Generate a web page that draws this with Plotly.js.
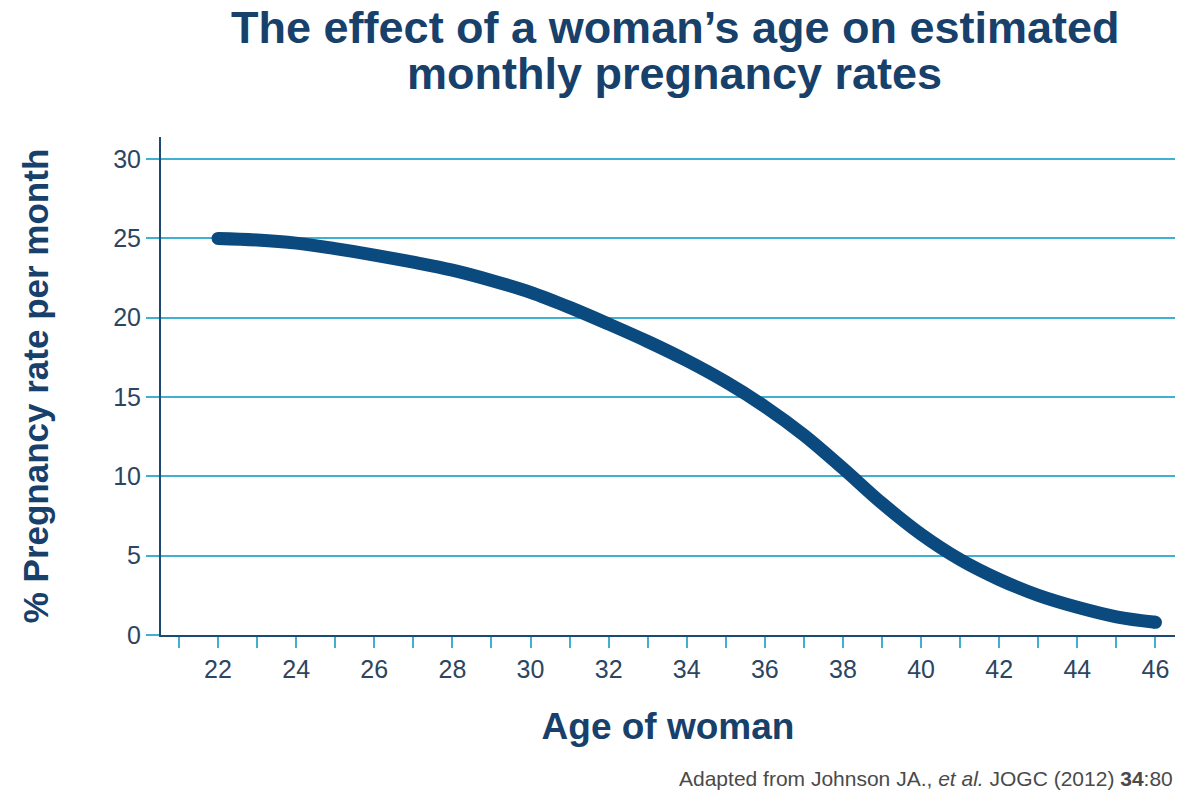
<!DOCTYPE html>
<html>
<head>
<meta charset="utf-8">
<script src="https://cdn.plot.ly/plotly-3.0.1.min.js"></script>
<style>html,body{margin:0;padding:0;background:#fff;}#chart{width:1189px;height:790px;}</style>
</head>
<body>
<div id="chart"></div>
<script>
const ages = [22, 23, 24, 25, 26, 27, 28, 29, 30, 31, 32, 33, 34, 35, 36, 37, 38, 39, 40, 41, 42, 43, 44, 45, 46];
const rates = [25.0, 24.9, 24.7, 24.35, 23.95, 23.5, 23.0, 22.35, 21.6, 20.65, 19.6, 18.5, 17.3, 15.95, 14.4, 12.6, 10.5, 8.3, 6.35, 4.75, 3.5, 2.5, 1.75, 1.15, 0.8];
const xTickVals = [22, 24, 26, 28, 30, 32, 34, 36, 38, 40, 42, 44, 46];
const yTickVals = [0, 5, 10, 15, 20, 25, 30];
const titleLines = ['The effect of a woman’s age on estimated', 'monthly pregnancy rates'];

const navy = '#0b4a7e';
const teal = '#3fb0cf';
const textCol = '#2c4560';
const titleCol = '#17406b';

const trace = {
  x: ages, y: rates, type: 'scatter', mode: 'lines',
  line: {color: navy, width: 13, shape: 'spline', smoothing: 1},
  hoverinfo: 'skip'
};
const caps = {
  x: [ages[0], ages[ages.length - 1]],
  y: [rates[0], rates[rates.length - 1]],
  type: 'scatter', mode: 'markers',
  marker: {color: navy, size: 13},
  hoverinfo: 'skip'
};

const layout = {
  width: 1189, height: 790,
  paper_bgcolor: '#ffffff', plot_bgcolor: '#ffffff',
  showlegend: false,
  margin: {l: 161, r: 14, t: 137, b: 155},
  font: {family: 'Liberation Sans, Arial, sans-serif', color: textCol},
  title: {
    text: '<b>' + titleLines[0] + '</b>',
    font: {size: 45, color: titleCol, family: 'Liberation Sans, Arial, sans-serif'},
    x: 0.568, xanchor: 'center', yref: 'container', y: 0.965, yanchor: 'middle'
  },
  xaxis: {
    range: [20.54, 46.5],
    tickvals: xTickVals,
    ticktext: xTickVals.map(String),
    ticks: 'outside', ticklen: 11, tickwidth: 2, tickcolor: teal,
    minor: {dtick: 1, tick0: 22, ticks: 'outside', ticklen: 11, tickwidth: 2, tickcolor: teal, showgrid: false},
    tickfont: {size: 25, color: textCol},
    showgrid: false, zeroline: false,
    showline: true, linecolor: '#1d4a72', linewidth: 2,
    title: {text: '<b>Age of woman</b>', font: {size: 37, color: titleCol}, standoff: 31}
  },
  yaxis: {
    range: [0, 31.39],
    tickvals: yTickVals,
    ticks: 'outside', ticklen: 13, tickwidth: 2, tickcolor: teal,
    tickfont: {size: 25, color: textCol},
    showgrid: true, gridcolor: teal, gridwidth: 2,
    zeroline: false,
    showline: true, linecolor: '#1d4a72', linewidth: 2,
    title: {text: '<b>% Pregnancy rate per month</b>', font: {size: 35, color: titleCol}, standoff: 54}
  },
  annotations: [{
    xref: 'paper', yref: 'paper', x: 0.506, y: 1.128, xanchor: 'center', yanchor: 'middle',
    text: '<b>' + titleLines[1] + '</b>',
    showarrow: false, font: {size: 45, color: titleCol, family: 'Liberation Sans, Arial, sans-serif'}
  }, {
    xref: 'paper', yref: 'paper', x: 1.0, y: -0.288, xanchor: 'right', yanchor: 'middle',
    text: 'Adapted from Johnson JA., <i>et al.</i> JOGC (2012) <b>34</b>:80',
    showarrow: false, font: {size: 21, color: '#4a4a4a'}
  }]
};

Plotly.newPlot('chart', [trace, caps], layout, {displayModeBar: false, staticPlot: true});
</script>
</body>
</html>
